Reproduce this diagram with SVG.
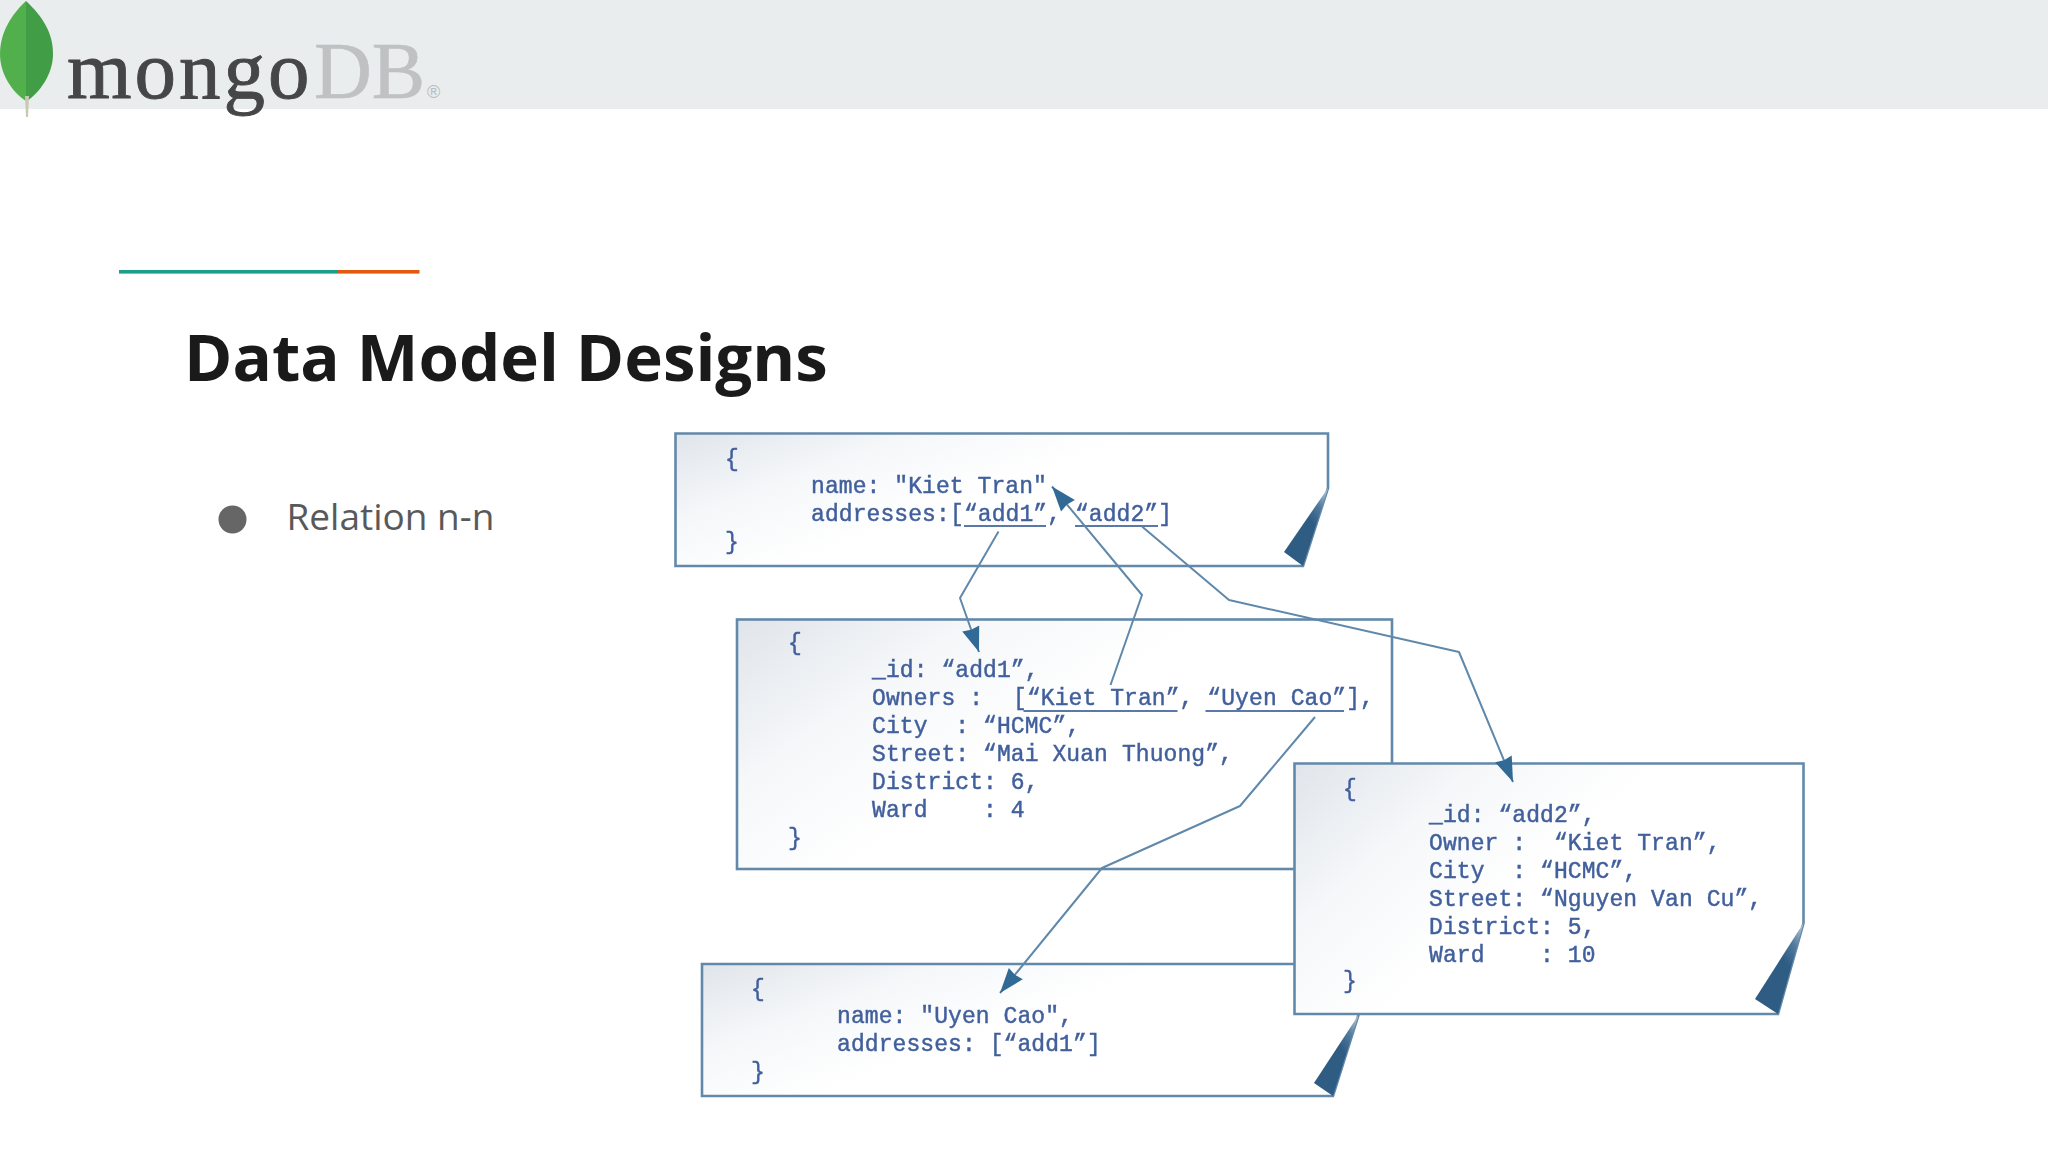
<svg xmlns="http://www.w3.org/2000/svg" width="2048" height="1152" viewBox="0 0 2048 1152">
<style>
.note{fill:url(#paper);stroke:#6489aa;stroke-width:2.6;stroke-linejoin:miter}
.fold{fill:url(#foldg)}
.code{font-family:"Liberation Mono",monospace;font-size:23px;letter-spacing:.08px;fill:#415f9c;stroke:#415f9c;stroke-width:.45;white-space:pre}
.ul{stroke:#5a79a8;stroke-width:2;fill:none}
.conn{fill:none;stroke:#5f88aa;stroke-width:2;stroke-linejoin:round;marker-end:url(#head)}
</style>
<defs>
<linearGradient id="paper" x1="0" y1="0" x2="1" y2="0.55">
<stop offset="0" stop-color="#e0e5eb"/><stop offset="0.28" stop-color="#f5f7f9"/><stop offset="0.55" stop-color="#ffffff"/>
</linearGradient>
<linearGradient id="foldg" x1="0.95" y1="0" x2="0.45" y2="0.75">
<stop offset="0" stop-color="#b9c8d5"/><stop offset="0.3" stop-color="#537c9f"/><stop offset="0.6" stop-color="#2f5b83"/>
</linearGradient>
<marker id="head" markerUnits="userSpaceOnUse" markerWidth="30" markerHeight="22" refX="25" refY="9" orient="auto" overflow="visible">
<path d="M0,0 L25,9 L0,18 L1.5,9 z" fill="#336a96"/>
</marker>
<filter id="soft" x="-2%" y="-2%" width="104%" height="104%"><feGaussianBlur stdDeviation="0.65"/></filter>
</defs>
<rect width="2048" height="1152" fill="#ffffff"/>
<rect id="header" width="2048" height="109" fill="#e9edee"/>
<g id="logo">
<path d="M26,1 C42,16 53,32 53,54 C53,74 40,92 27,101 L26,101 Z" fill="#429d47"/>
<path d="M26,1 C12,14 0,32 0,54 C0,74 12,92 26,101 Z" fill="#52b04c"/>
<path d="M25,96 L29,96 L28,117 L26,117 Z" fill="#c9c8b4"/>
<text x="67" y="98" font-family="Liberation Serif,serif" font-size="83" letter-spacing="3" fill="#454647" stroke="#454647" stroke-width=".9">mongo</text>
<text x="314" y="98" font-family="Liberation Serif,serif" font-size="80" fill="#bfc1c2" stroke="#bfc1c2" stroke-width=".6">DB</text>
<text x="427" y="98" font-family="Liberation Sans,sans-serif" font-size="18" fill="#b9bbbc">®</text>
</g>
<rect x="119" y="270" width="219" height="3.6" fill="#1d9d8b"/>
<rect x="338" y="270" width="81.5" height="3.6" fill="#e2590f"/>
<text id="title" x="184" y="381" font-family="Open Sans,sans-serif" font-weight="700" font-size="65.4" fill="#1a1a1a">Data Model Designs</text>
<g id="bullet">
<circle cx="232.5" cy="519.5" r="14" fill="#666666"/>
<text x="286.5" y="530" font-family="Open Sans,sans-serif" font-size="37" fill="#595959">Relation n-n</text>
</g>

<g id="doc-kiet" filter="url(#soft)">
<path class="note" d="M675.5,433.5 H1328 V488 L1303,566 H675.5 Z"/>
<path class="fold" d="M1328,488 L1284,552 L1303,566 Z"/>
<text class="code" x="725" y="466">{</text>
<text class="code" x="811" y="493">name: "Kiet Tran"</text>
<text class="code" x="811" y="521">addresses:<tspan x="950">[“add1”, “add2”]</tspan></text>
<text class="code" x="725" y="549">}</text>
<path class="ul" d="M964,526 H1046 M1075,526 H1158"/>
</g>

<g id="doc-add1" filter="url(#soft)">
<rect class="note" x="737" y="619.5" width="655" height="249.5"/>
<text class="code" x="788" y="650">{</text>
<text class="code" x="872" y="677">_id: “add1”,</text>
<text class="code" x="872" y="705">Owners :<tspan x="1013">[“Kiet Tran”, “Uyen Cao”],</tspan></text>
<text class="code" x="872" y="733">City  : “HCMC”,</text>
<text class="code" x="872" y="761">Street: “Mai Xuan Thuong”,</text>
<text class="code" x="872" y="789">District: 6,</text>
<text class="code" x="872" y="817">Ward    : 4</text>
<text class="code" x="788" y="845">}</text>
<path class="ul" d="M1023.5,711 H1177.5 M1205.5,711 H1344"/>
</g>

<g id="doc-uyen" filter="url(#soft)">
<path class="note" d="M702,964 H1358.5 V1015 L1333,1096 H702 Z"/>
<path class="fold" d="M1358.5,1015 L1314,1083 L1333,1096 Z"/>
<text class="code" x="751" y="996">{</text>
<text class="code" x="837" y="1023">name: "Uyen Cao",</text>
<text class="code" x="837" y="1051">addresses: [“add1”]</text>
<text class="code" x="751" y="1079">}</text>
</g>

<g id="doc-add2" filter="url(#soft)">
<path class="note" d="M1294.5,763.5 H1803.5 V923 L1778,1014 H1294.5 Z"/>
<path class="fold" d="M1803.5,923 L1755,999 L1778,1014 Z"/>
<text class="code" x="1343" y="796">{</text>
<text class="code" x="1429" y="822">_id: “add2”,</text>
<text class="code" x="1429" y="850">Owner :  “Kiet Tran”,</text>
<text class="code" x="1429" y="878">City  : “HCMC”,</text>
<text class="code" x="1429" y="906">Street: “Nguyen Van Cu”,</text>
<text class="code" x="1429" y="934">District: 5,</text>
<text class="code" x="1429" y="962">Ward    : 10</text>
<text class="code" x="1343" y="988">}</text>
</g>

<g id="connectors" filter="url(#soft)">
<polyline class="conn" points="998.5,531.5 960,598 979,652"/>
<polyline class="conn" points="1110.5,685 1142,595 1052,486.5"/>
<polyline class="conn" points="1142,526.5 1229,600 1459,652 1513,782"/>
<polyline class="conn" points="1315,717 1240,806 1102,868 1000,993"/>
</g>
</svg>
